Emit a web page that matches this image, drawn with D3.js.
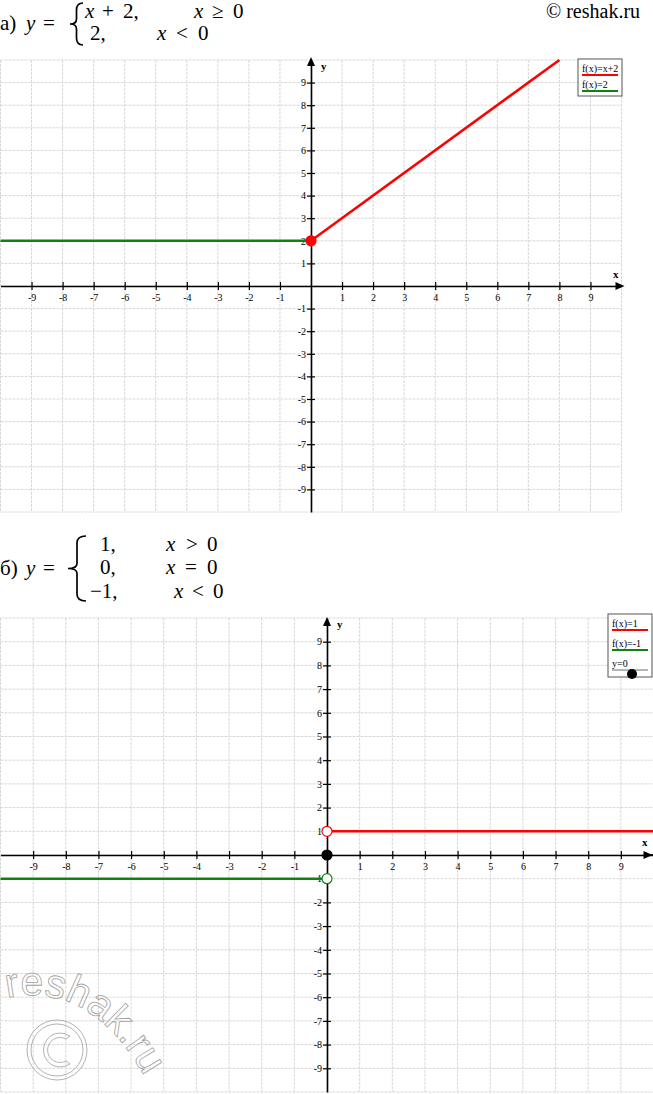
<!DOCTYPE html>
<html><head><meta charset="utf-8">
<script src="https://cdn.jsdelivr.net/npm/d3@7"></script>
<style>body{margin:0;background:#fff}svg{display:block}</style>
</head><body>
<script>
// ---------- data ----------
const xTicks = [-9,-8,-7,-6,-5,-4,-3,-2,-1,1,2,3,4,5,6,7,8,9];
const yTicks = [-9,-8,-7,-6,-5,-4,-3,-2,-1,1,2,3,4,5,6,7,8,9];
const gridValues = [-10,-9,-8,-7,-6,-5,-4,-3,-2,-1,0,1,2,3,4,5,6,7,8,9,10];

const chartA_red = [[0,2],[8,10]];
const chartA_green = [[-10,2],[0,2]];
const chartA_filledRed = [[0,2]];
const chartA_legend = ["f(x)=x+2","f(x)=2"];

const chartB_red = [[0,1],[10,1]];
const chartB_green = [[-10,-1],[0,-1]];
const chartB_openRed = [[0,1]];
const chartB_openGreen = [[0,-1]];
const chartB_filledBlack = [[0,0]];
const chartB_legend = ["f(x)=1","f(x)=-1","y=0"];

// ---------- drawing ----------
const W = 653, H = 1094;
const RED = "#ff0000", GREEN = "#118211";
const SERIF = "'Liberation Serif','Times New Roman',serif";
const svg = d3.select("body").append("svg").attr("width", W).attr("height", H)
  .style("font-family", SERIF);

function drawChart(cfg) {
  const x = d3.scaleLinear().domain([-10,10]).range(cfg.xr);
  const y = d3.scaleLinear().domain([-10,10]).range(cfg.yr);
  const g = svg.append("g");
  // grid
  g.append("g").selectAll("line").data(gridValues).join("line")
    .attr("x1", d => x(d)).attr("x2", d => x(d))
    .attr("y1", y(10)).attr("y2", y(-10))
    .attr("stroke", "#d8d8d8").attr("stroke-dasharray", "3,1");
  g.append("g").selectAll("line").data(gridValues).join("line")
    .attr("y1", d => y(d)).attr("y2", d => y(d))
    .attr("x1", x(-10)).attr("x2", x(10))
    .attr("stroke", "#d8d8d8").attr("stroke-dasharray", "3,1");

  // x axis
  const gx = g.append("g").attr("transform", `translate(0,${y(0)})`)
    .call(d3.axisBottom(x).tickValues(xTicks).tickSize(4).tickSizeOuter(0).tickFormat(d => String(d)));
  gx.select(".domain").attr("stroke", "#000").attr("stroke-width", 1.6);
  gx.selectAll(".tick line").attr("y1", -4).attr("y2", 4).attr("stroke", "#000").attr("stroke-width", 1.2);
  gx.selectAll(".tick text").attr("y", 8).attr("dy", "0.71em")
    .attr("font-size", 10).attr("font-family", SERIF).attr("fill", "#000");

  // y axis
  const gy = g.append("g").attr("transform", `translate(${x(0)},0)`)
    .call(d3.axisLeft(y).tickValues(yTicks).tickSize(4).tickSizeOuter(0).tickFormat(d => String(d)));
  gy.select(".domain").attr("stroke", "#000").attr("stroke-width", 1.6);
  gy.selectAll(".tick line").attr("x1", 4).attr("x2", -4).attr("stroke", "#000").attr("stroke-width", 1.2);
  gy.selectAll(".tick text").attr("x", -5).attr("dy", "0.32em")
    .attr("font-size", 10).attr("font-family", SERIF).attr("fill", "#000");

  // arrows
  const ax = x(10), ay = y(0);
  g.append("path").attr("d", `M${ax+cfg.arrowX},${ay} L${ax+cfg.arrowX-9},${ay-4} L${ax+cfg.arrowX-9},${ay+4}Z`).attr("fill", "#000");
  g.append("line").attr("x1", ax).attr("x2", ax+cfg.arrowX-8).attr("y1", ay).attr("y2", ay).attr("stroke", "#000").attr("stroke-width", 1.6);
  const bx = x(0), by = y(10);
  g.append("path").attr("d", `M${bx},${by-cfg.arrowY} L${bx-4},${by-cfg.arrowY+9} L${bx+4},${by-cfg.arrowY+9}Z`).attr("fill", "#000");

  g.append("text").attr("x", cfg.xLabel[0]).attr("y", cfg.xLabel[1]).text("x")
    .attr("font-weight", "bold").attr("font-size", 11);
  g.append("text").attr("x", cfg.yLabel[0]).attr("y", cfg.yLabel[1]).text("y")
    .attr("font-weight", "bold").attr("font-size", 11);

  const line = d3.line().x(d => x(d[0])).y(d => y(d[1]));
  cfg.lines.forEach(l => {
    g.append("path").datum(l.data).attr("d", line).attr("fill", "none")
      .attr("stroke", l.color).attr("stroke-width", 2.6);
  });
  cfg.dots.forEach(dt => {
    g.append("g").selectAll("circle").data(dt.data).join("circle")
      .attr("cx", d => x(d[0])).attr("cy", d => y(d[1])).attr("r", 5)
      .attr("fill", dt.fill).attr("stroke", dt.stroke).attr("stroke-width", 1.2);
  });

  // legend
  const L = cfg.legend;
  const lg = g.append("g");
  lg.append("rect").attr("x", L.x).attr("y", L.y).attr("width", L.w).attr("height", L.h)
    .attr("fill", "#fff").attr("stroke", "#555").attr("stroke-width", 1);
  L.items.forEach((it, i) => {
    const ty = L.y + L.first + i * L.step;
    lg.append("text").attr("x", L.x + 4).attr("y", ty).text(it.label)
      .attr("font-size", 10).attr("fill", "#000");
    lg.append("line").attr("x1", L.x + 4).attr("x2", L.x + L.w - 4)
      .attr("y1", ty + 3).attr("y2", ty + 3)
      .attr("stroke", it.color).attr("stroke-width", it.width);
    if (it.dot) {
      lg.append("circle").attr("cx", L.x + 24).attr("cy", ty + 7).attr("r", 5).attr("fill", "#000");
    }
  });
}

drawChart({
  xr: [0.5, 621.5], yr: [512, 60], arrowX: 3, arrowY: 3,
  xLabel: [613, 278], yLabel: [321, 70],
  lines: [{data: chartA_green, color: GREEN}, {data: chartA_red, color: RED}],
  dots: [{data: chartA_filledRed, fill: RED, stroke: RED}],
  legend: {x: 578, y: 59, w: 44, h: 37, first: 13, step: 16,
    items: [{label: chartA_legend[0], color: RED, width: 2},
            {label: chartA_legend[1], color: GREEN, width: 2}]}
});

drawChart({
  xr: [0.5, 653.5], yr: [1092, 618], arrowX: -1, arrowY: 1,
  xLabel: [642, 846], yLabel: [337, 628],
  lines: [{data: chartB_green, color: GREEN}, {data: chartB_red, color: RED}],
  dots: [{data: chartB_openRed, fill: "#fff", stroke: RED},
         {data: chartB_openGreen, fill: "#fff", stroke: GREEN},
         {data: chartB_filledBlack, fill: "#000", stroke: "#000"}],
  legend: {x: 608, y: 614, w: 44, h: 63, first: 13, step: 20,
    items: [{label: chartB_legend[0], color: RED, width: 2},
            {label: chartB_legend[1], color: GREEN, width: 2},
            {label: chartB_legend[2], color: "#335533", width: 0.8, dot: true}]}
});

// ---------- titles ----------
function txt(x, y, s, italic, size) {
  svg.append("text").attr("x", x).attr("y", y).text(s)
    .attr("font-size", size || 21).attr("font-style", italic ? "italic" : "normal").attr("fill", "#000");
}
function brace(x0, x1, yTop, yBot) {
  const ym = (yTop + yBot) / 2, xm = (x0 + x1) / 2;
  const p = `M${x1},${yTop} Q${xm},${yTop} ${xm},${yTop+7} L${xm},${ym-5} Q${xm},${ym} ${x0},${ym} Q${xm},${ym} ${xm},${ym+5} L${xm},${yBot-7} Q${xm},${yBot} ${x1},${yBot}`;
  svg.append("path").attr("d", p).attr("fill", "none").attr("stroke", "#000").attr("stroke-width", 1.7);
}
// a)
txt(0, 30, "а)"); txt(26, 30, "y", true); txt(43, 30, "=");
brace(70, 83, 3, 45);
txt(85, 18, "x", true); txt(102, 18, "+"); txt(123, 18, "2,");
txt(194, 18, "x", true); txt(212, 18, "≥"); txt(233, 18, "0");
txt(90, 40, "2,");
txt(157, 40, "x", true); txt(176, 40, "<"); txt(198, 40, "0");
// © reshak.ru
txt(546, 18, "© reshak.ru", false, 20);

// б)
txt(0, 575, "б)"); txt(26, 575, "y", true); txt(43, 575, "=");
brace(68, 86, 536, 601);
txt(100, 551, "1,"); txt(166, 551, "x", true); txt(186, 551, ">"); txt(207, 551, "0");
txt(100, 574, "0,"); txt(166, 574, "x", true); txt(185, 574, "="); txt(207, 574, "0");
txt(90, 598, "−1,"); txt(174, 598, "x", true); txt(192, 598, "<"); txt(213, 598, "0");

// ---------- watermark ----------
const wm = svg.append("g").attr("fill", "none").attr("stroke", "#a0a0a0").attr("stroke-width", 0.8)
  .style("font-family", "'Liberation Sans',Arial,sans-serif");
svg.append("defs").append("path").attr("id", "wmArc")
  .attr("d", "M7,998 C62,986 118,1012 158,1104");
wm.append("text").attr("font-size", 41)
  .append("textPath").attr("href", "#wmArc").text("reshak.ru");
wm.append("circle").attr("cx", 57).attr("cy", 1050).attr("r", 30);
wm.append("circle").attr("cx", 57).attr("cy", 1050).attr("r", 26);
wm.append("path").attr("d", "M70,1036 A17,17 0 1 0 70,1064 L66,1061 A12.5,12.5 0 1 1 66,1039 Z");
</script>
</body></html>
